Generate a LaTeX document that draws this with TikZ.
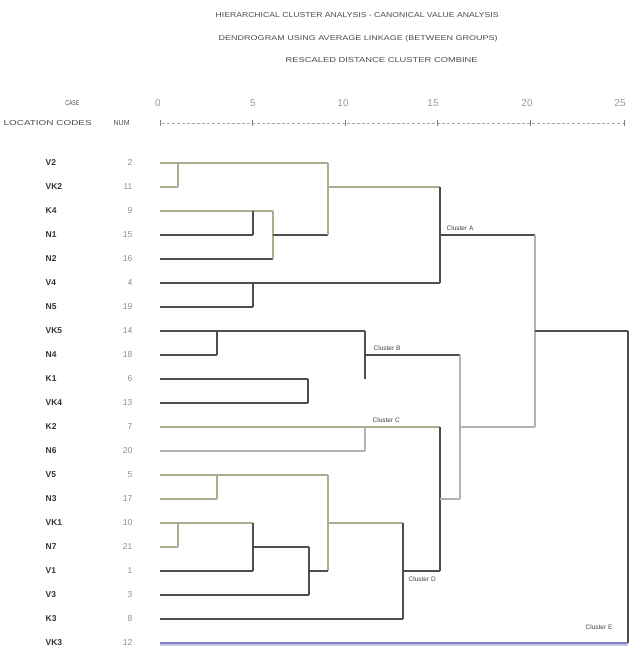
\documentclass[tikz,border=0pt]{standalone}
\usepackage{fontspec}
\setmainfont{Liberation Sans}
\usepackage{graphicx}
\definecolor{linelight}{RGB}{176,172,146}
\definecolor{linedark}{RGB}{78,78,78}
\definecolor{vkblue}{RGB}{128,128,196}

\begin{document}
\begin{tikzpicture}[x=1pt, y=-1pt, line width=1.3pt,
  dk/.style={draw=linedark},
  lo/.style={draw=linelight},
  lg/.style={draw=black!30},
  case/.style={anchor=west, inner sep=0pt, font=\fontsize{8.5}{9}\selectfont\bfseries, text=black!80},
  num/.style={anchor=east, inner sep=0pt, font=\fontsize{8.5}{9}\selectfont, text=black!45},
  tag/.style={inner sep=0pt, font=\fontsize{6.5}{7}\selectfont, text=black!75}]
\useasboundingbox (0,0) rectangle (641,657);

% Titel
\node[anchor=west, inner sep=0pt, text=black!70] (title1) at (215,15) {\resizebox{283pt}{5pt}{HIERARCHICAL CLUSTER ANALYSIS - CANONICAL VALUE ANALYSIS}};
\node[anchor=west, inner sep=0pt, text=black!70] (title2) at (218,39) {\resizebox{279pt}{5pt}{DENDROGRAM USING AVERAGE LINKAGE (BETWEEN GROUPS)}};
\node[anchor=west, inner sep=0pt, text=black!70] (title3) at (285,60) {\resizebox{192pt}{5pt}{RESCALED DISTANCE CLUSTER COMBINE}};

% Kopf und Skala
\node[anchor=east, inner sep=0pt, text=black!70] (hcase) at (80,103) {\resizebox{14pt}{5pt}{CASE}};
\node[anchor=west, inner sep=0pt, text=black!70] (hloc) at (3,123) {\resizebox{88pt}{5pt}{LOCATION CODES}};
\node[anchor=west, inner sep=0pt, text=black!70] (hnum) at (113,123) {\resizebox{16pt}{5pt}{NUM}};
\foreach \v/\xx in {0/158,5/253,10/343,15/433,20/527,25/620}
  \node[inner sep=0pt, font=\fontsize{10}{11}\selectfont, text=black!40] (s\v) at (\xx,103) {\v};
\draw[black!35, line width=0.8pt, dash pattern=on 3pt off 2pt] (162,123) -- (625,123);
\foreach \t in {160,252,345,437,530,624}
  \draw[black!50, line width=1pt] (\t,120) -- (\t,126);

% Fallbezeichnungen
\foreach \n/\k [count=\i from 0] in {V2/2,VK2/11,K4/9,N1/15,N2/16,V4/4,N5/19,VK5/14,N4/18,K1/6,VK4/13,K2/7,N6/20,V5/5,N3/17,VK1/10,N7/21,V1/1,V3/3,K3/8,VK3/12}{
  \node[case] (name-\n) at (45,163+24*\i) {\n};
  \node[num] (num-\n) at (133,163+24*\i) {\k};
}

% Cluster A
\draw[lo] (160,163) -- (328,163);
\draw[lo] (160,187) -- (178,187) (178,163) -- (178,187);
\draw[lo] (160,211) -- (273,211);
\draw[dk] (160,235) -- (253,235) (253,211) -- (253,235);
\draw[dk] (160,259) -- (273,259);
\draw[lo] (273,211) -- (273,259);
\draw[dk] (273,235) -- (328,235);
\draw[lo] (328,163) -- (328,235) (328,187) -- (440,187);
\draw[dk] (160,283) -- (440,283);
\draw[dk] (160,307) -- (253,307) (253,283) -- (253,307);
\draw[dk] (440,187) -- (440,283) (440,235) -- (535,235);
\node[tag, anchor=south west] (clA) at (446,231) {Cluster A};

% Cluster B
\draw[dk] (160,331) -- (365,331);
\draw[dk] (160,355) -- (217,355) (217,331) -- (217,355);
\draw[dk] (160,379) -- (308,379);
\draw[dk] (160,403) -- (308,403) (308,379) -- (308,403);
\draw[dk] (365,331) -- (365,379) (365,355) -- (460,355);
\node[tag, anchor=south west] (clB) at (373,351) {Cluster B};

% Cluster C
\draw[lo] (160,427) -- (440,427);
\draw[lg] (160,451) -- (365,451) (365,427) -- (365,451);
\node[tag, anchor=south west] (clC) at (372,423) {Cluster C};

% Cluster D
\draw[lo] (160,475) -- (328,475);
\draw[lo] (160,499) -- (217,499) (217,475) -- (217,499);
\draw[lo] (328,475) -- (328,571) (328,523) -- (403,523);
\draw[lo] (160,523) -- (253,523);
\draw[lo] (160,547) -- (178,547) (178,523) -- (178,547);
\draw[dk] (253,523) -- (253,571);
\draw[dk] (160,571) -- (253,571);
\draw[dk] (253,547) -- (309,547) (309,547) -- (309,595);
\draw[dk] (160,595) -- (309,595);
\draw[dk] (309,571) -- (328,571);
\draw[dk] (160,619) -- (403,619) (403,523) -- (403,619);
\draw[dk] (403,571) -- (440,571) (440,427) -- (440,571);
\node[tag, anchor=north west] (clD) at (408,576) {Cluster D};

% Verbindungen
\draw[lg] (460,355) -- (460,499) (440,499) -- (460,499);
\draw[lg] (460,427) -- (535,427) (535,235) -- (535,427);
\draw[dk] (535,331) -- (628,331) (628,331) -- (628,643);

% Cluster E
\draw[vkblue!45, line width=4pt] (160,644) -- (628,644);
\draw[vkblue, line width=2.4pt] (160,643) -- (628,643);
\node[tag, anchor=south east] (clE) at (613,630) {Cluster E};

\end{tikzpicture}
\end{document}
